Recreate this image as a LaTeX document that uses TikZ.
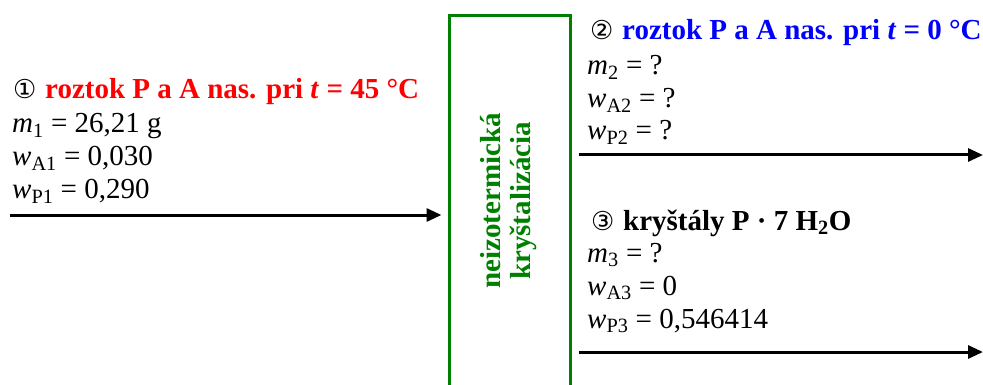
\documentclass[tikz,border=0pt]{standalone}
\usepackage{fontspec}
\setmainfont{Liberation Serif}
\newfontfamily\dvsans{DejaVu Sans}
\usetikzlibrary{arrows.meta}
\definecolor{pgreen}{RGB}{0,128,0}
\newcommand{\circnum}[1]{\makebox[17pt][l]{\dvsans\fontsize{26}{28}\selectfont #1}\hspace{15pt}}
\newcommand{\vv}[2]{\textit{#1}\textsubscript{#2}}
\begin{document}
\begin{tikzpicture}[x=1pt,y=-1pt,
  lbl/.style={anchor=base west, inner sep=0pt, font=\fontsize{29}{34}\selectfont},
  flow/.style={line width=3pt, -{Triangle[length=15pt,width=13pt]}},
  procbox/.style={draw=pgreen, line width=3pt, minimum width=121pt, minimum height=390pt, inner sep=0pt, anchor=north west},
  proclbl/.style={text=pgreen, font=\fontsize{29}{34}\selectfont\bfseries, rotate=90, inner sep=0pt}
]
\useasboundingbox (0,0) rectangle (983,385);
% process box
\node[procbox] (proc) at (447.5,14.5) {};
\node[proclbl] (l1) at (491,201) {neizotermická};
\node[proclbl] (l2) at (523,201) {kryštalizácia};

% stream 1
\node[lbl] (h1) at (13,99) {\circnum{①}\textcolor{red}{\textbf{roztok P a A nas. pri \textit{t} = 45 °C}}};
\node[lbl] (m1) at (12,133) {\vv{m}{1} = 26,21 g};
\node[lbl] (a1) at (12,166) {\vv{w}{A1} = 0,030};
\node[lbl] (p1) at (12,199) {\vv{w}{P1} = 0,290};
\coordinate (s1) at (10,215);
\draw[flow, shorten >=6pt] (s1) -- (s1 -| proc.west);

% stream 2
\node[lbl] (h2) at (590,40) {\circnum{②}\textcolor{blue}{\textbf{roztok P a A nas. pri \textit{t} = 0 °C}}};
\node[lbl] (m2) at (587,75) {\vv{m}{2} = ?};
\node[lbl] (a2) at (587,108) {\vv{w}{A2} = ?};
\node[lbl] (p2) at (587,140) {\vv{w}{P2} = ?};
\coordinate (e2) at (983,155);
\draw[flow, shorten <=7pt] (e2 -| proc.east) -- (e2);

% stream 3
\node[lbl] (h3) at (591,230) {\circnum{③}\textbf{kryštály P · 7 H\textsubscript{2}O}};
\node[lbl] (m3) at (587,262) {\vv{m}{3} = ?};
\node[lbl] (a3) at (587,295) {\vv{w}{A3} = 0};
\node[lbl] (p3) at (587,328) {\vv{w}{P3} = 0,546414};
\coordinate (e3) at (983,352);
\draw[flow, shorten <=7pt] (e3 -| proc.east) -- (e3);
\end{tikzpicture}
\end{document}
